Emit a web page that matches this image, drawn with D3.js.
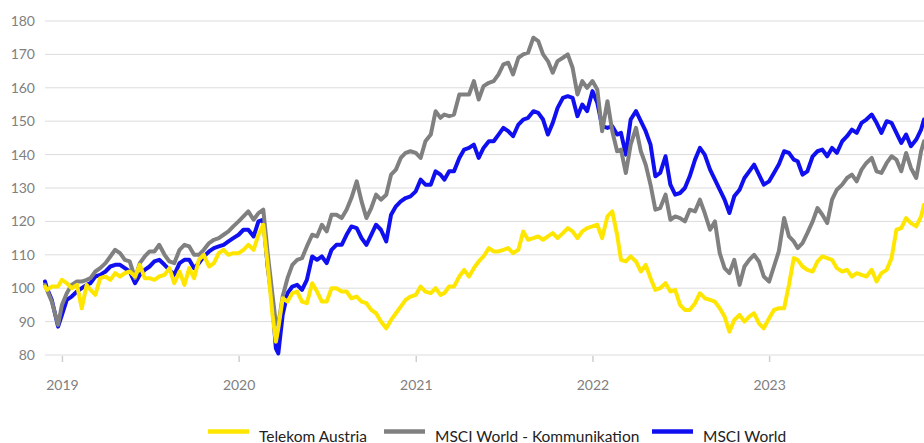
<!DOCTYPE html>
<html>
<head>
<meta charset="utf-8">
<script src="https://cdn.jsdelivr.net/npm/d3@7"></script>
<style>
  body { margin: 0; background: #fff; }
  svg { display: block; }
</style>
</head>
<body>
<div id="chart"></div>
<script>
// Dates of the samples (shared by all three series)
const dates = [
  "2018-11-27","2018-12-01","2018-12-11","2018-12-24",
  "2019-01-01","2019-01-11","2019-01-21","2019-02-01","2019-02-11","2019-02-21","2019-03-01","2019-03-11","2019-03-21",
  "2019-04-01","2019-04-11","2019-04-21","2019-05-01","2019-05-11","2019-05-21","2019-06-01","2019-06-11","2019-06-21",
  "2019-07-01","2019-07-11","2019-07-21","2019-08-01","2019-08-11","2019-08-21","2019-09-01","2019-09-11","2019-09-21",
  "2019-10-01","2019-10-11","2019-10-21","2019-11-01","2019-11-11","2019-11-21","2019-12-01","2019-12-11","2019-12-21",
  "2020-01-01","2020-01-11","2020-01-21","2020-02-01","2020-02-11","2020-02-21","2020-03-01","2020-03-11","2020-03-18","2020-03-23",
  "2020-04-01","2020-04-11","2020-04-21","2020-05-01","2020-05-11","2020-05-21","2020-06-01","2020-06-11","2020-06-21",
  "2020-07-01","2020-07-11","2020-07-21","2020-08-01","2020-08-11","2020-08-21","2020-09-01","2020-09-11","2020-09-21",
  "2020-10-01","2020-10-11","2020-10-21","2020-11-01","2020-11-11","2020-11-21","2020-12-01","2020-12-11","2020-12-21",
  "2021-01-01","2021-01-11","2021-01-21","2021-02-01","2021-02-11","2021-02-21","2021-03-01","2021-03-11","2021-03-21",
  "2021-04-01","2021-04-11","2021-04-21","2021-05-01","2021-05-11","2021-05-21","2021-06-01","2021-06-11","2021-06-21",
  "2021-07-01","2021-07-11","2021-07-21","2021-08-01","2021-08-11","2021-08-21","2021-09-01","2021-09-11","2021-09-21",
  "2021-10-01","2021-10-11","2021-10-21","2021-11-01","2021-11-11","2021-11-21","2021-12-01","2021-12-11","2021-12-21",
  "2022-01-01","2022-01-11","2022-01-21","2022-02-01","2022-02-11","2022-02-21","2022-03-01","2022-03-11","2022-03-21",
  "2022-04-01","2022-04-11","2022-04-21","2022-05-01","2022-05-11","2022-05-21","2022-06-01","2022-06-11","2022-06-21",
  "2022-07-01","2022-07-11","2022-07-21","2022-08-01","2022-08-11","2022-08-21","2022-09-01","2022-09-11","2022-09-21",
  "2022-10-01","2022-10-11","2022-10-21","2022-11-01","2022-11-11","2022-11-21","2022-12-01","2022-12-11","2022-12-21",
  "2023-01-01","2023-01-11","2023-01-21","2023-02-01","2023-02-11","2023-02-21","2023-03-01","2023-03-11","2023-03-21",
  "2023-04-01","2023-04-11","2023-04-21","2023-05-01","2023-05-11","2023-05-21","2023-06-01","2023-06-11","2023-06-21",
  "2023-07-01","2023-07-11","2023-07-21","2023-08-01","2023-08-11","2023-08-21","2023-09-01","2023-09-11","2023-09-21",
  "2023-10-01","2023-10-11","2023-10-21","2023-11-01","2023-11-11","2023-11-17"
];

// Telekom Austria (indexed, start = 100)
const telekom = [
  100.5, 99.5, 100.5, 100.5,
  102.5, 101.5, 100, 101, 94, 101, 99.5, 98, 103, 103.5, 102.5, 104.5, 103.5, 104.5, 105, 103.5, 107, 103,
  103, 102.5, 103.5, 104, 106, 101.5, 105, 101, 106, 103, 108.5, 110, 106.5, 107.5, 110.5, 111.5, 110, 110.5,
  110.5, 111.5, 113, 111.5, 116, 119, 107, 92, 84, 88, 97, 96, 98.5, 99, 96, 95.5, 101.5, 99, 96,
  96, 100, 100, 99, 99, 97, 97.5, 96, 95.5, 93.5, 92.5, 90, 88, 90.5, 92.5, 94.5, 96.5, 97.5,
  98, 100.5, 99, 98.5, 100, 98, 98.5, 100.5, 100.5, 103.5, 105.5, 103.5, 106, 108, 109.5, 112, 111, 111,
  111.5, 112, 110.5, 111.5, 117, 114.5, 115, 115.5, 114.5, 115.5, 116.5, 115, 116.5, 118, 117, 115, 117, 118,
  118.5, 119, 115, 121.5, 123, 116, 108.5, 108, 109.5, 108, 105, 107, 103, 99.5, 100, 101.5, 99, 99.5,
  95, 93.5, 93.5, 95.5, 98.5, 97, 96.5, 96, 94, 91.5, 87, 90.5, 92, 90, 91.5, 92.5, 89.5, 88,
  91, 93.5, 94, 94, 101, 109, 108.5, 106.5, 105.5, 105, 108, 109.5, 109, 108.5, 106, 105, 105.5, 103.5,
  104.5, 104, 103.5, 105.5, 102, 104.5, 105.5, 109, 117.5, 118, 121, 119.5, 118.5, 121.5, 125
];

// MSCI World - Kommunikation
const kommunikation = [
  101, 99.5, 96, 89,
  95, 98.5, 101, 102, 102, 102.5, 103, 105, 106, 107.5, 109.5, 111.5, 110.5, 108.5, 108, 103, 107.5, 109.5,
  111, 111, 113, 110, 108, 107.5, 111.5, 113, 112.5, 110, 110, 111.5, 113.5, 114.5, 115, 116, 117, 118.5,
  120, 121.5, 123, 120.5, 122.5, 123.5, 110.5, 98, 89.5, 89, 97.5, 103, 107, 108.5, 109, 112.5, 116, 115.5, 119,
  117, 122, 122, 121, 123.5, 127, 132, 126, 121, 124, 128, 126.5, 128, 134, 135.5, 139, 140.5, 141,
  140.5, 139, 144, 146, 153, 151, 152, 151.5, 152, 158, 158, 158, 162, 156.5, 160.5, 161.5, 162, 164,
  167, 167.5, 164, 169, 170, 170.5, 175, 174, 170, 168, 164.5, 168, 169, 170, 166, 158, 162, 160,
  162, 159.5, 147, 156, 147, 141, 141.5, 134.5, 143, 148, 141, 137, 131, 123.5, 124, 128, 120.5, 121.5,
  121, 120, 123.5, 123, 126.5, 122.5, 117.5, 120, 110.5, 106, 104.5, 108.5, 101, 106.5, 108.5, 110, 108, 103.5,
  102, 106.5, 111, 121, 115.5, 114, 112, 113.5, 116.5, 120, 124, 122, 119.5, 126.5, 129.5, 131, 133, 134,
  132, 135.5, 137.5, 139, 135, 134.5, 137.5, 139.5, 138.5, 135, 140.5, 136, 133, 141, 144
];

// MSCI World
const msciWorld = [
  102, 100, 96.5, 88.5,
  92, 96.5, 97.5, 99, 100, 101, 101.5, 103.5, 104, 105, 106.5, 107, 107, 106, 105, 101.5, 104, 105.5,
  106.5, 108, 108.5, 107, 105.5, 104, 107.5, 108.5, 108.5, 106, 107.5, 109.5, 111, 112, 112.5, 113, 114, 115,
  116, 117.5, 117.5, 115.5, 120, 120.5, 106.5, 95, 82, 80.5, 92, 98.5, 100.5, 101, 99.5, 102.5, 109.5, 108.5, 109.5,
  107.5, 111.5, 113, 113, 116, 118.5, 118, 115, 113, 116, 119, 117.5, 114, 122, 124.5, 126, 127, 127.5,
  129, 132.5, 131, 131, 135, 134, 132.5, 135, 135, 139, 141.5, 142, 143, 139, 142, 144, 144, 146,
  148, 147, 145.5, 149, 150.5, 151, 153, 152.5, 150.5, 146, 149.5, 154, 157, 157.5, 157, 151.5, 155, 153,
  159, 155.5, 148.5, 148, 148.5, 146, 146.5, 140, 150.5, 153, 150, 147, 143, 133.5, 134.5, 139.5, 131, 128,
  128.5, 130, 133.5, 138.5, 142, 140, 135.5, 132.5, 129.5, 126.5, 122.5, 127.5, 129.5, 133, 135, 137, 134, 131,
  132, 134.5, 137, 141, 140.5, 138.5, 138, 134, 135, 139.5, 141, 141.5, 139.5, 142, 140.5, 144, 145.5, 147.5,
  146.5, 149.5, 150.5, 152, 149.5, 146.5, 150, 149.5, 146.5, 143.5, 146, 142.5, 144.5, 147.5, 150.5
];

const seriesNames = ["Telekom Austria", "MSCI World - Kommunikation", "MSCI World"];
const seriesValues = [telekom, kommunikation, msciWorld];
const seriesColors = ["#ffe600", "#808080", "#0f0ff0"];
const yTicks = [80, 90, 100, 110, 120, 130, 140, 150, 160, 170, 180];

const width = 924;
const height = 443;
const margin = {top: 21, right: 0, bottom: 88, left: 45};

const parse = d3.timeParse("%Y-%m-%d");
const parsedDates = dates.map(parse);

const x = d3.scaleTime()
    .domain(d3.extent(parsedDates))
    .range([margin.left, width - margin.right]);

const y = d3.scaleLinear()
    .domain([80, 180])
    .range([height - margin.bottom, margin.top]);

const svg = d3.select("#chart").append("svg")
    .attr("width", width)
    .attr("height", height)
    .attr("viewBox", [0, 0, width, height])
    .style("font-family", "Lato, 'Open Sans', sans-serif");

// Gridlines
svg.append("g")
    .selectAll("line")
    .data(yTicks)
    .join("line")
    .attr("x1", margin.left)
    .attr("x2", width)
    .attr("y1", d => y(d))
    .attr("y2", d => y(d))
    .attr("stroke", "#dcdcdc")
    .attr("stroke-width", 1);

// Y axis labels
svg.append("g")
    .attr("transform", `translate(${margin.left},0)`)
    .call(d3.axisLeft(y).tickValues(yTicks).tickSize(0).tickPadding(10))
    .call(g => g.select(".domain").remove())
    .call(g => g.selectAll("text")
        .attr("fill", "#808080")
        .style("font-size", "14px")
        .style("font-family", "Lato, 'Open Sans', sans-serif"));

// X axis
svg.append("g")
    .attr("transform", `translate(0,${y(80) + 1})`)
    .call(d3.axisBottom(x).ticks(d3.timeYear.every(1)).tickFormat(d3.timeFormat("%Y")).tickSize(6).tickPadding(18))
    .call(g => g.select(".domain").remove())
    .call(g => g.selectAll("line").attr("stroke", "#cfcfcf").attr("stroke-width", 1.5))
    .call(g => g.selectAll("text")
        .attr("fill", "#808080")
        .style("font-size", "14px")
        .style("font-family", "Lato, 'Open Sans', sans-serif"));

// Lines: blue first, then gray, yellow on top
const line = d3.line()
    .x((d, i) => x(parsedDates[i]))
    .y(d => y(d));

[2, 1, 0].forEach(k => {
    svg.append("path")
        .datum(seriesValues[k])
        .attr("fill", "none")
        .attr("stroke", seriesColors[k])
        .attr("stroke-width", 4)
        .attr("stroke-linejoin", "round")
        .attr("stroke-linecap", "round")
        .attr("d", line);
});

// Legend (item start positions as in the original layout)
const legendX = [208, 384, 652];
const legend = svg.append("g");
seriesNames.forEach((name, k) => {
    const item = legend.append("g").attr("transform", `translate(${legendX[k]},0)`);
    item.append("line")
        .attr("x1", 0).attr("x2", 41)
        .attr("y1", 431.5).attr("y2", 431.5)
        .attr("stroke", seriesColors[k])
        .attr("stroke-width", 4.5);
    item.append("text")
        .attr("x", 51)
        .attr("y", 442)
        .attr("fill", "#222")
        .style("font-size", "15.5px")
        .text(name);
});
</script>
</body>
</html>
